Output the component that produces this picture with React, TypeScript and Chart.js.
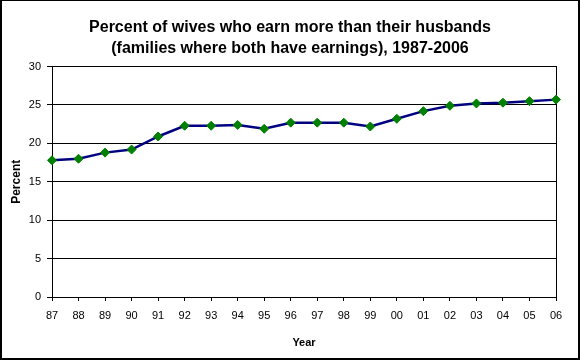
import React, { useEffect, useRef } from "react";
import { Chart, registerables } from "chart.js";

Chart.register(...registerables);

const years = ["87", "88", "89", "90", "91", "92", "93", "94", "95", "96", "97", "98", "99", "00", "01", "02", "03", "04", "05", "06"];
const percentValues = [17.8, 18.0, 18.8, 19.2, 20.9, 22.3, 22.3, 22.4, 21.9, 22.7, 22.7, 22.7, 22.2, 23.2, 24.2, 24.9, 25.2, 25.3, 25.5, 25.7];
const titleLines = ["Percent of wives who earn more than their husbands", "(families where both have earnings), 1987-2006"];
const yAxisTitle = "Percent";
const xAxisTitle = "Year";

const FONT = "'Liberation Sans', Arial, sans-serif";

export default function App() {
  const ref = useRef<HTMLCanvasElement | null>(null);

  useEffect(() => {
    document.body.style.margin = "0";
    const canvas = ref.current;
    if (!canvas) return;
    const chart = new Chart(canvas, {
      type: "line",
      data: {
        labels: years,
        datasets: [
          {
            data: percentValues,
            borderColor: "#000080",
            borderWidth: 2.5,
            backgroundColor: "#008000",
            pointStyle: "rectRot",
            pointRadius: 4.5,
            pointBorderWidth: 1,
            pointBorderColor: "#008000",
            pointBackgroundColor: "#008000",
            tension: 0,
            fill: false,
          },
        ],
      },
      options: {
        responsive: false,
        animation: false,
        devicePixelRatio: 1,
        layout: { padding: 0 },
        plugins: {
          legend: { display: false },
          tooltip: { enabled: false },
          title: {
            display: true,
            text: titleLines,
            color: "#000",
            font: { family: FONT, size: 16, weight: "bold", lineHeight: 1.3 },
            padding: { top: 16, bottom: 8 },
          },
        },
        scales: {
          x: {
            offset: false,
            afterFit: (s: any) => {
              s.height = 61;
            },
            grid: {
              display: true,
              drawOnChartArea: false,
              tickColor: "#000",
              tickLength: 4,
              lineWidth: 1,
            },
            border: { display: true, color: "#000", width: 1 },
            ticks: {
              color: "#000",
              font: { family: FONT, size: 11 },
              padding: 8,
              maxRotation: 0,
              autoSkip: false,
            },
            title: {
              display: true,
              text: xAxisTitle,
              color: "#000",
              font: { family: FONT, size: 11, weight: "bold" },
              padding: { top: 0, bottom: 8 },
            },
          },
          y: {
            min: 0,
            max: 30,
            afterFit: (s: any) => {
              s.width = 50;
            },
            grid: {
              color: "#000",
              tickColor: "#000",
              tickLength: 5,
              lineWidth: 1,
            },
            border: { display: true, color: "#000", width: 1 },
            ticks: {
              stepSize: 5,
              color: "#000",
              font: { family: FONT, size: 11 },
              padding: 6,
            },
            title: {
              display: true,
              text: yAxisTitle,
              color: "#000",
              font: { family: FONT, size: 12, weight: "bold" },
              padding: { top: 7, bottom: 4 },
            },
          },
          yRight: {
            position: "right",
            min: 0,
            max: 30,
            afterFit: (s: any) => {
              s.width = 22;
            },
            grid: { display: false, drawOnChartArea: false, drawTicks: false },
            border: { display: true, color: "#000", width: 1 },
            ticks: { display: false },
          },
        },
      },
    });
    return () => chart.destroy();
  }, []);

  return (
    <div
      style={{
        width: 580,
        height: 360,
        boxSizing: "border-box",
        borderStyle: "solid",
        borderColor: "#000",
        borderWidth: "1px 2px 2px 2px",
        background: "#fff",
        position: "relative",
      }}
    >
      <canvas ref={ref} width={576} height={357} style={{ display: "block" }} />
    </div>
  );
}
